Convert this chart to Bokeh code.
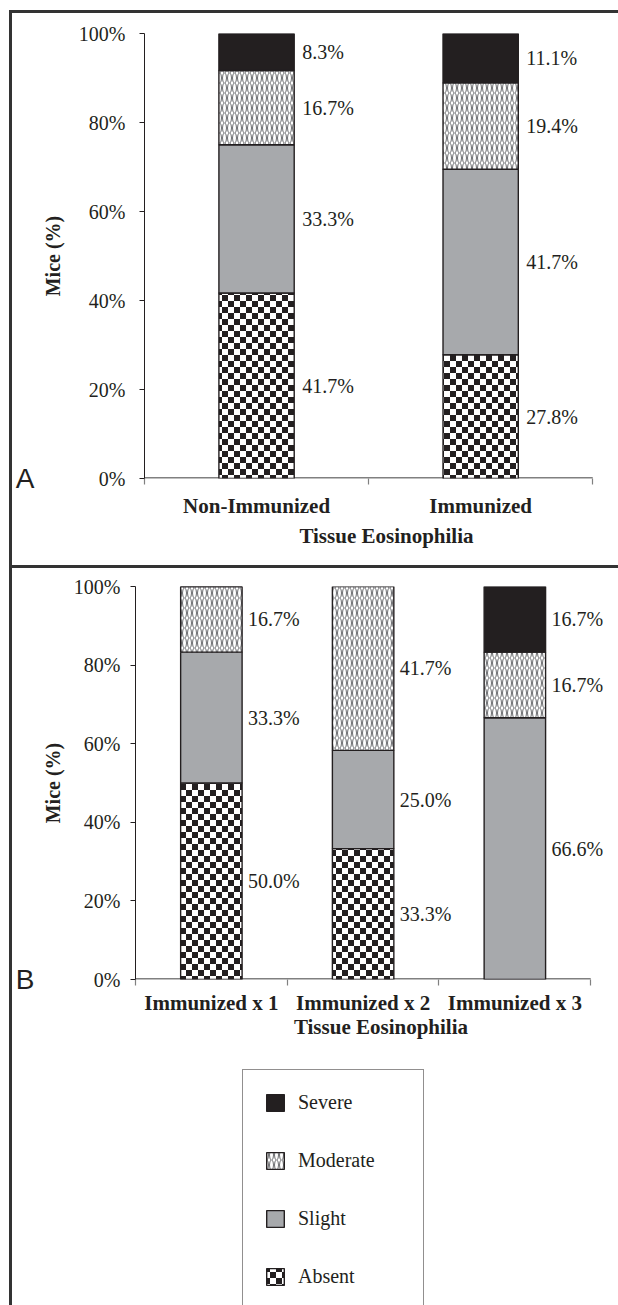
import numpy as np
from bokeh.plotting import figure
from bokeh.models import (ColumnDataSource, Range1d, FixedTicker, PrintfTickFormatter,
                          Legend, LegendItem, CanvasTexture, Spacer, LinearAxis)
from bokeh.layouts import column, row
from bokeh.core.properties import value
from bokeh.embed import file_html
from bokeh.resources import INLINE

# ---------------- data ----------------
levels = ["Absent", "Slight", "Moderate", "Severe"]

groups_a = ["Non-Immunized", "Immunized"]
absent_a = [41.7, 27.8]
slight_a = [33.3, 41.7]
moderate_a = [16.7, 19.4]
severe_a = [8.3, 11.1]

groups_b = ["Immunized x 1", "Immunized x 2", "Immunized x 3"]
absent_b = [50.0, 33.3, 0.0]
slight_b = [33.3, 25.0, 66.6]
moderate_b = [16.7, 41.7, 16.7]
severe_b = [16.7, 0.0, 16.7]

y_ticks = [0, 20, 40, 60, 80, 100]
x_title = "Tissue Eosinophilia"
y_title = "Mice (%)"
panel_letters = ["A", "B"]

# ---------------- styles ----------------
INK = "#231f20"
FRAME = "#333333"
SERIF = "Liberation Serif"
SANS = "Liberation Sans"

CHECK_JS = """
const c = ctx.canvas;
c.width = 12; c.height = 12;
const g = c.getContext('2d');
g.setTransform(1, 0, 0, 1, 0, 0);
g.fillStyle = '#ffffff';
g.fillRect(0, 0, 12, 12);
g.fillStyle = '#231f20';
g.fillRect(0, 0, 6, 6);
g.fillRect(6, 6, 6, 6);
"""
WAVE_JS = """
const c = ctx.canvas;
c.width = 10; c.height = 10;
const g = c.getContext('2d');
g.setTransform(1, 0, 0, 1, 0, 0);
g.fillStyle = '#ffffff';
g.fillRect(0, 0, 10, 10);
g.strokeStyle = '#6d6e71';
g.lineWidth = 1.0;
for (const cx of [2.5, 7.5]) {
  g.beginPath();
  g.ellipse(cx, 5, 2.0, 5, 0, 0, 2 * Math.PI);
  g.stroke();
}
"""
checker = CanvasTexture(code=CHECK_JS)
wave = CanvasTexture(code=WAVE_JS)

PAT = {"Absent": "checker", "Moderate": "wave"}
STYLE = {
    "Absent": dict(fill_color="white", hatch_pattern="pat", hatch_color=INK,
                   hatch_scale=12, hatch_weight=1, hatch_extra={"checker": checker}),
    "Slight": dict(fill_color="#a7a9ac"),
    "Moderate": dict(fill_color="white", hatch_pattern="pat", hatch_color="#6d6e71",
                     hatch_scale=10, hatch_weight=1, hatch_extra={"wave": wave}),
    "Severe": dict(fill_color=INK),
}


def make_panel(groups, series, letter, height, border_left, border_top, border_bottom,
               cat_px, frame_px, bar_w, lab_off, tick_stand, ylab_stand, x_stand, title_stand):
    n = len(groups)
    xs = np.arange(n) + 0.5
    x_end = frame_px / cat_px
    p = figure(width=606, height=height, x_range=Range1d(0, x_end), y_range=Range1d(0, 100),
               output_backend="svg", toolbar_location=None,
               min_border_left=border_left, min_border_right=0,
               min_border_top=border_top, min_border_bottom=border_bottom)
    p.xgrid.visible = False
    p.ygrid.visible = False
    p.outline_line_color = None

    # baseline of the category axis (spans only the categories)
    p.segment(x0=[0], y0=[0], x1=[n], y1=[0], line_color="#808080", line_width=3)

    bottom = np.zeros(n)
    for lev, vals in zip(levels, series):
        vals = np.array(vals, dtype=float)
        top = bottom + vals
        m = vals > 0
        src = ColumnDataSource(dict(x=xs[m], bottom=bottom[m], top=top[m],
                                    pat=[PAT.get(lev, " ")] * int(m.sum())))
        p.vbar(x="x", bottom="bottom", top="top", width=bar_w, source=src,
               line_color=INK, line_width=1.4, **STYLE[lev])
        lsrc = ColumnDataSource(dict(x=xs[m] + bar_w / 2, y=(bottom + vals / 2)[m],
                                     t=[f"{v:.1f}%" for v in vals[m]]))
        p.text(x="x", y="y", text="t", source=lsrc, x_offset=lab_off,
               text_align="left", text_baseline="middle", text_font=value(SERIF),
               text_font_size="20px", text_color=INK)
        bottom = top

    # category axis
    xa = p.xaxis[0]
    xa.ticker = FixedTicker(ticks=list(xs), minor_ticks=list(range(n + 1)))
    xa.major_label_overrides = {float(x): g for x, g in zip(xs, groups)}
    xa.major_tick_out = 0
    xa.major_tick_in = 0
    xa.minor_tick_out = 6
    xa.minor_tick_in = 0
    xa.axis_line_color = None
    xa.minor_tick_line_color = "#808080"
    xa.minor_tick_line_width = 1.2
    xa.major_label_text_font = SERIF
    xa.major_label_text_font_style = "bold"
    xa.major_label_text_font_size = "21px"
    xa.major_label_text_color = INK
    xa.major_label_standoff = x_stand

    # axis title placed as a second axis below
    tpos = round(n / 2 + 18 / cat_px, 4)
    ta = LinearAxis(ticker=FixedTicker(ticks=[tpos]), major_label_overrides={tpos: x_title},
                    axis_line_color=None, major_tick_line_color=None, minor_tick_line_color=None,
                    major_tick_out=0, major_tick_in=0, minor_tick_out=0, minor_tick_in=0,
                    major_label_standoff=title_stand, major_label_text_font=SERIF,
                    major_label_text_font_style="bold", major_label_text_font_size="21px",
                    major_label_text_color=INK)
    p.add_layout(ta, "below")

    # value axis
    ya = p.yaxis[0]
    ya.ticker = FixedTicker(ticks=y_ticks)
    ya.formatter = PrintfTickFormatter(format="%d%%")
    ya.major_tick_out = 5
    ya.major_tick_in = 0
    ya.minor_tick_out = 0
    ya.minor_tick_in = 0
    ya.axis_line_color = INK
    ya.major_tick_line_color = INK
    ya.major_label_text_font = SERIF
    ya.major_label_text_font_size = "20px"
    ya.major_label_text_color = INK
    ya.major_label_standoff = tick_stand
    ya.axis_label = y_title
    ya.axis_label_text_font = SERIF
    ya.axis_label_text_font_style = "bold"
    ya.axis_label_text_font_size = "20px"
    ya.axis_label_text_color = INK
    ya.axis_label_standoff = ylab_stand

    # panel letter as an outer axis label at the baseline
    la = LinearAxis(ticker=FixedTicker(ticks=[0]), major_label_overrides={0: letter},
                    axis_line_color=None, major_tick_line_color=None, minor_tick_line_color=None,
                    major_tick_out=0, major_tick_in=0, minor_tick_out=0, minor_tick_in=0,
                    major_label_standoff=4, major_label_text_font=SANS,
                    major_label_text_font_size="28px", major_label_text_color=INK)
    p.add_layout(la, "left")
    return p


pA = make_panel(groups_a, [absent_a, slight_a, moderate_a, severe_a], panel_letters[0],
                height=552, border_left=128, border_top=20, border_bottom=87,
                cat_px=226, frame_px=478, bar_w=0.336, lab_off=8,
                tick_stand=14, ylab_stand=12, x_stand=9, title_stand=3)
pB = make_panel(groups_b, [absent_b, slight_b, moderate_b, severe_b], panel_letters[1],
                height=482, border_left=119, border_top=18, border_bottom=71,
                cat_px=153, frame_px=487, bar_w=0.405, lab_off=6,
                tick_stand=10, ylab_stand=7, x_stand=5, title_stand=-3)

# ---------------- legend figure ----------------
pL = figure(width=606, height=255, x_range=Range1d(0, 1), y_range=Range1d(0, 1),
            output_backend="svg", toolbar_location=None,
            x_axis_location=None, y_axis_location=None,
            min_border_left=0, min_border_top=0, min_border_right=0, min_border_bottom=0)
pL.xgrid.visible = False
pL.ygrid.visible = False
pL.outline_line_color = None
items = []
for lev in reversed(levels):
    src = ColumnDataSource(dict(x=[np.nan], top=[np.nan], pat=[PAT.get(lev, " ")]))
    r = pL.vbar(x="x", top="top", bottom=0, width=0.1, source=src,
                line_color=INK, line_width=1.4, **STYLE[lev])
    items.append(LegendItem(label=lev, renderers=[r]))
legend = Legend(items=items, location=(230, -5), margin=0, padding=21, spacing=35,
                glyph_width=22, glyph_height=21, label_standoff=12, label_width=104,
                label_height=23, label_text_font=SERIF, label_text_font_size="20px",
                label_text_color=INK, border_line_color=INK, border_line_width=1.5,
                background_fill_color="white", background_fill_alpha=1.0)
pL.add_layout(legend)

# ---------------- frame lines & layout ----------------
top_pad = Spacer(width=618, height=10)
left_pad = Spacer(width=9, height=1295)
top_line = Spacer(width=609, height=3, styles={"background-color": FRAME})
left_line = Spacer(width=3, height=1292, styles={"background-color": FRAME})
sep_line = Spacer(width=606, height=3, styles={"background-color": FRAME})

inner = column(row(pA), sep_line, row(pB), row(pL))
layout = column(top_pad, row(left_pad, column(top_line, row(left_line, inner))))

open("out.html", "w").write(file_html(layout, INLINE, title="Tissue Eosinophilia"))
